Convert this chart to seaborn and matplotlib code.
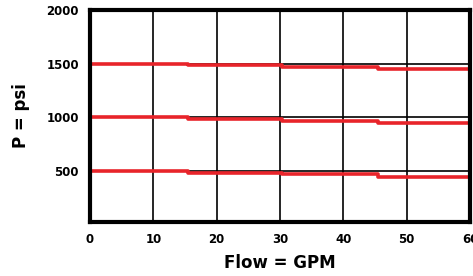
import pandas as pd
import matplotlib
matplotlib.use("Agg")
import matplotlib.pyplot as plt
import seaborn as sns

# step breakpoints (GPM) and pressure levels (psi)
flow = [0, 15.5, 30.3, 45.5, 60]
p_1500 = [1500, 1490, 1465, 1450, 1450]
p_1000 = [1000, 985, 965, 945, 945]
p_500 = [500, 485, 470, 445, 445]
x_ticks = [0, 10, 20, 30, 40, 50, 60]
y_ticks = [500, 1000, 1500, 2000]

rows = []
for name, vals in [("1500", p_1500), ("1000", p_1000), ("500", p_500)]:
    for f, p in zip(flow, vals):
        rows.append({"flow": f, "psi": p, "set": name})
df = pd.DataFrame(rows)

sns.set_style("white")
plt.rcParams['font.family'] = ['DejaVu Sans']
plt.rcParams['text.color'] = 'black'
plt.rcParams['axes.labelcolor'] = 'black'
plt.rcParams['xtick.color'] = 'black'
plt.rcParams['ytick.color'] = 'black'

fig = plt.figure(figsize=(4.73, 2.76), dpi=100)
ax = fig.add_axes([0.1903, 0.1957, 0.9937 - 0.1903, 0.9638 - 0.1957])

sns.lineplot(data=df, x="flow", y="psi", hue="set", palette=["#e8242a"] * 3,
             drawstyle="steps-post", linewidth=2.6, legend=False, ax=ax)

ax.set_xlim(0, 60)
ax.set_ylim(25, 2000)
ax.set_xticks(x_ticks)
ax.set_yticks(y_ticks)
ax.grid(True, color="black", linewidth=1.2)
ax.set_axisbelow(True)
for s in ax.spines.values():
    s.set_visible(True)
    s.set_color("black")
    s.set_linewidth(3)
ax.tick_params(length=0, pad=8, labelsize=8.5)
for lbl in ax.get_xticklabels() + ax.get_yticklabels():
    lbl.set_fontweight("bold")

ax.set_xlabel("Flow = GPM", fontsize=12, fontweight="bold", labelpad=6)
ax.set_ylabel("P = psi", fontsize=12, fontweight="bold", labelpad=12)

fig.savefig("out.png", dpi=100)
